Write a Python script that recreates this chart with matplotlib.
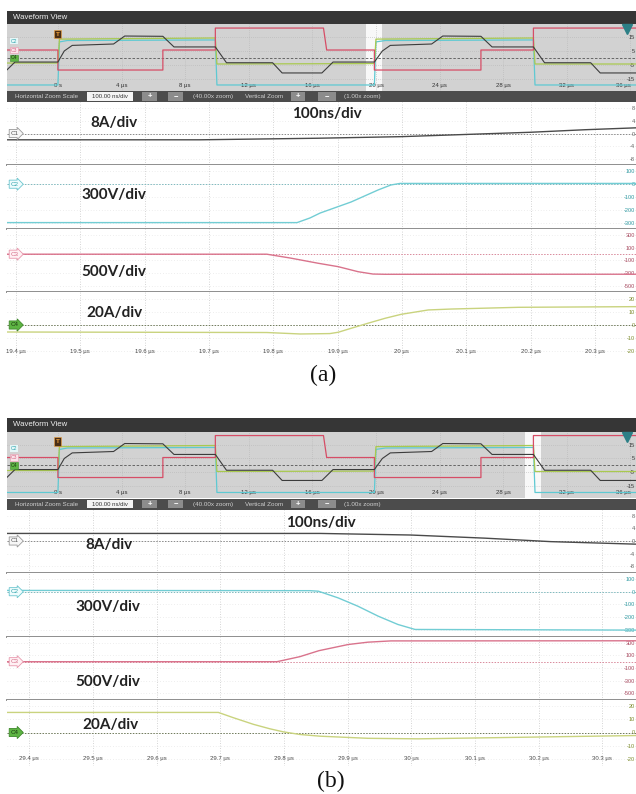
import matplotlib
matplotlib.use("Agg")
import matplotlib.pyplot as plt
import matplotlib.transforms as mtransforms
from matplotlib.patches import Rectangle

plt.rcParams['font.family'] = ['Liberation Sans', 'DejaVu Sans']

W, H = 636, 794

# ---------------- overview data (display units, time in µs) ----------------
ov_ticks = [0, 4, 8, 12, 16, 20, 24, 28, 32, 36]
ov_ticklabels = ['0 s', '4 µs', '8 µs', '12 µs', '16 µs', '20 µs', '24 µs', '28 µs', '32 µs', '36 µs']
ov_yticks = [15, 5, -5, -15]

ov_red_t = [-3.4, 0.0, 0.0, 6.6, 6.6, 9.9, 9.9, 16.7, 16.9, 19.9, 19.9, 26.6, 26.6, 29.9, 29.9, 36.6]
ov_red_v = [5.7, 5.7, -8.6, -8.6, 5.7, 5.7, 21.4, 21.4, 5.7, 5.7, -8.6, -8.6, 5.7, 5.7, 21.4, 21.4]
ov_cyan_t = [-3.4, 0.0, 0.1, 0.6, 9.9, 10.0, 19.9, 20.0, 20.6, 29.9, 30.0, 36.6]
ov_cyan_v = [-19.3, -19.3, 11.5, 12.5, 12.9, -19.3, -19.3, 11.5, 12.5, 12.9, -19.3, -19.3]
ov_green_t = [-3.4, 0.0, 0.1, 9.9, 10.0, 19.9, 20.0, 29.9, 30.0, 36.6]
ov_green_v = [-3.6, -3.6, 13.5, 14.3, -4.3, -4.0, 13.5, 14.3, -4.3, -4.3]
ov_black_t = [-3.4, -2.7, 0.0, 0.4, 0.9, 3.5, 4.2, 6.6, 7.3, 9.9, 10.6, 13.5, 14.1, 16.6, 17.3,
              19.9, 20.4, 20.9, 23.5, 24.2, 26.6, 27.3, 29.9, 30.6, 33.5, 34.1, 36.6]
ov_black_v = [-10.7, -2.9, -2.9, 5.0, 9.0, 10.0, 15.7, 15.5, 7.9, 7.9, -3.4, -3.4, -10.7, -10.7, -2.9,
              -2.9, 5.0, 9.0, 10.0, 15.7, 15.5, 7.9, 7.9, -3.4, -3.4, -10.7, -10.7]

# ---------------- zoomed data, panel (a) ----------------
a_xticks = [19.4, 19.5, 19.6, 19.7, 19.8, 19.9, 20.0, 20.1, 20.2, 20.3]
a_xticklabels = ['19.4 µs', '19.5 µs', '19.6 µs', '19.7 µs', '19.8 µs', '19.9 µs', '20 µs', '20.1 µs', '20.2 µs', '20.3 µs']
a_t_c1 = [19.386, 19.686, 19.870, 19.999, 20.201, 20.285, 20.364]
a_v_c1 = [-2.0, -2.0, -1.5, -1.0, 0.4, 1.2, 1.8]
a_t_c2 = [19.386, 19.837, 19.857, 19.873, 19.921, 19.963, 19.983, 19.997, 20.364]
a_v_c2 = [-300, -300, -264, -225, -139, -45, -6, 6, 6]
a_t_c3 = [19.386, 19.790, 19.826, 19.870, 19.901, 19.932, 19.955, 19.974, 20.364]
a_v_c3 = [0, 0, -60, -144, -198, -278, -315, -319, -318]
a_t_c4 = [19.386, 19.790, 19.842, 19.888, 19.901, 19.921, 19.947, 19.974, 19.999, 20.041, 20.077, 20.181, 20.364]
a_v_c4 = [-5.3, -5.7, -6.8, -6.5, -5.5, -2.5, 1.3, 5.1, 8.1, 11.4, 12.1, 13.4, 13.9]

# ---------------- zoomed data, panel (b) ----------------
b_xticks = [29.4, 29.5, 29.6, 29.7, 29.8, 29.9, 30.0, 30.1, 30.2, 30.3]
b_xticklabels = ['29.4 µs', '29.5 µs', '29.6 µs', '29.7 µs', '29.8 µs', '29.9 µs', '30 µs', '30.1 µs', '30.2 µs', '30.3 µs']
b_t_c1 = [29.365, 29.857, 29.999, 30.116, 30.219, 30.353]
b_v_c1 = [2.4, 2.4, 1.9, 0.9, -0.2, -1.0]
b_t_c2 = [29.365, 29.841, 29.854, 29.885, 29.916, 29.948, 29.979, 30.006, 30.353]
b_v_c2 = [10, 8, 4, -48, -113, -191, -256, -295, -300]
b_t_c3 = [29.365, 29.789, 29.825, 29.855, 29.901, 29.932, 29.968, 30.353]
b_v_c3 = [0, 0, 80, 175, 273, 310, 330, 332]
b_t_c4 = [29.365, 29.697, 29.720, 29.752, 29.778, 29.799, 29.825, 29.857, 29.932, 30.011, 30.353]
b_v_c4 = [15.2, 15.2, 11.3, 6.2, 2.8, 0.5, -1.5, -2.8, -4.4, -4.8, -2.3]

# channel vertical settings
ch_names = ['C1', 'C2', 'C3', 'C4']
ch_yticks = [[8, 4, 0, -4, -8], [100, 0, -100, -200, -300], [300, 100, -100, -300, -500], [20, 10, 0, -10, -20]]
ch_ylims = [(-10, 10), (-350, 150), (-600, 400), (-25, 25)]
ch_scale_text = ['8A/div', '300V/div', '500V/div', '20A/div']

trace_colors = ['#4a4a4a', '#72cdd4', '#d9738c', '#c9d37e']
label_colors = ['#606060', '#2f9aa2', '#a84a60', '#7d8c2c']
zero_colors = ['#8a8a8a', '#7fb9be', '#d98a9c', '#6f7a5a']
tag_fc = ['#f7f7f7', '#effcfd', '#fff1f4', '#5db443']
tag_ec = ['#9a9a9a', '#6cc6cf', '#e898ad', '#3f8a2c']
tag_tc = ['#555555', '#2fa3ab', '#d36a86', '#1d3a12']

fig = plt.figure(figsize=(W / 100, H / 100), dpi=100)
fig.patch.set_facecolor('white')


def rect(x0, y0, x1, y1):
    return [x0 / W, 1 - y1 / H, (x1 - x0) / W, (y1 - y0) / H]


def draw_panel(dy, xlim, xticks, xticklabels, traces, text_pos, caption, cap_xy):
    # title bar
    axt = fig.add_axes(rect(7, 11 + dy, 636, 24 + dy))
    axt.set_axis_off()
    axt.add_patch(Rectangle((0, 0), 1, 1, transform=axt.transAxes, fc='#363636', ec='none'))
    axt.text(0.01, 0.5, 'Waveform View', color='#f0f0f0', fontsize=5.6, va='center', ha='left',
             transform=axt.transAxes)

    # overview
    axo = fig.add_axes(rect(7, 24 + dy, 636, 91 + dy))
    axo.set_facecolor('#d2d2d2')
    axo.set_xlim(-3.2, 36.35)
    axo.set_ylim(-23.6, 24.3)
    for s in axo.spines.values():
        s.set_visible(False)
    axo.axvspan(xlim[0], xlim[1], color='white', alpha=0.85, zorder=1, lw=0)
    axo.grid(True, color='#b4b4b4', ls=(0, (1, 2)), lw=0.5)
    axo.set_xticks(ov_ticks)
    axo.set_xticklabels(ov_ticklabels)
    axo.set_yticks(ov_yticks)
    axo.set_yticklabels([str(v) for v in ov_yticks])
    axo.tick_params(axis='x', length=0, pad=-6.0, labelsize=4.3, labelcolor='#333333')
    axo.tick_params(axis='y', length=0, labelleft=False, labelright=True, pad=-0.8, labelsize=4.0,
                    labelcolor='#333333')
    for lab in axo.get_yticklabels():
        lab.set_ha('right')
    axo.get_xticklabels()[-1].set_ha('right')
    axo.axhline(0, color='#555555', ls=(0, (3, 2)), lw=0.6, zorder=2)
    axo.plot(ov_cyan_t, ov_cyan_v, color='#5ec9d2', lw=0.9, zorder=3)
    axo.plot(ov_green_t, ov_green_v, color='#a9c94f', lw=0.9, zorder=3)
    axo.plot(ov_red_t, ov_red_v, color='#d64d66', lw=0.9, zorder=4)
    axo.plot(ov_black_t, ov_black_v, color='#3c3c3c', lw=0.8, zorder=5)
    bt = mtransforms.blended_transform_factory(axo.transAxes, axo.transData)
    axo.text(0.006, 12.1, 'C2', fontsize=3.6, color='#2fa3ab', va='center', transform=bt,
             bbox=dict(boxstyle='square,pad=0.15', fc='#e6f7f8', ec='none'), zorder=6)
    axo.text(0.006, 5.7, 'C3', fontsize=3.6, color='#d36a86', va='center', transform=bt,
             bbox=dict(boxstyle='square,pad=0.15', fc='#fbe3ea', ec='#e898ad', lw=0.4), zorder=6)
    axo.text(0.006, 0.0, 'C4', fontsize=3.6, color='#1d3a12', va='center', transform=bt,
             bbox=dict(boxstyle='square,pad=0.15', fc='#5db443', ec='#3f8a2c', lw=0.4), zorder=6)
    axo.text(0, 0.85, 'T', fontsize=4.5, color='#f3a43c', ha='center', va='center', fontweight='bold',
             transform=mtransforms.blended_transform_factory(axo.transData, axo.transAxes),
             bbox=dict(boxstyle='square,pad=0.25', fc='#4a2e16', ec='#f3a43c', lw=0.4), zorder=7)
    axo.plot([0.985], [0.92], marker='v', ms=7, color='#2c7f86', transform=axo.transAxes,
             clip_on=False, zorder=7)

    # control bar
    axc = fig.add_axes(rect(7, 91 + dy, 636, 102 + dy))
    axc.set_xlim(7, 636)
    axc.set_ylim(0, 1)
    axc.set_axis_off()
    axc.add_patch(Rectangle((7, 0), 629, 1, fc='#4c4c4c', ec='none'))
    tc = '#cfcfcf'
    axc.text(15, 0.5, 'Horizontal Zoom Scale', color=tc, fontsize=4.5, va='center')
    axc.add_patch(Rectangle((87, 0.12), 46, 0.76, fc='#f4f4f4', ec='none'))
    axc.text(110, 0.5, '100.00 ns/div', color='#333333', fontsize=4.3, va='center', ha='center')
    for x0, x1, s in [(142, 157, '+'), (168, 183, '−'), (291, 305, '+'), (318, 336, '−')]:
        axc.add_patch(Rectangle((x0, 0.12), x1 - x0, 0.76, fc='#8c8c8c', ec='none'))
        axc.text((x0 + x1) / 2, 0.5, s, color='white', fontsize=5.5, ha='center', va='center',
                 fontweight='bold')
    axc.text(193, 0.5, '(40.00x zoom)', color=tc, fontsize=4.5, va='center')
    axc.text(245, 0.5, 'Vertical Zoom', color=tc, fontsize=4.5, va='center')
    axc.text(344, 0.5, '(1.00x zoom)', color=tc, fontsize=4.5, va='center')

    # channel bands
    bands = [(102, 165), (165, 229), (229, 292), (292, 358)]
    axes = []
    for i, (y0, y1) in enumerate(bands):
        ax = fig.add_axes(rect(7, y0 + dy, 636, y1 + dy))
        ax.set_facecolor('white')
        ax.set_xlim(*xlim)
        ax.set_ylim(*ch_ylims[i])
        ax.set_xticks(xticks)
        ax.set_yticks(ch_yticks[i])
        ax.set_yticklabels([str(v) for v in ch_yticks[i]])
        ax.tick_params(axis='y', length=0, labelleft=False, labelright=True, pad=-0.8,
                       labelsize=4.1, labelcolor=label_colors[i])
        for lab in ax.get_yticklabels():
            lab.set_ha('right')
        if i == 3:
            ax.set_xticklabels(xticklabels)
            ax.tick_params(axis='x', length=0, pad=-6.6, labelsize=4.3, labelcolor='#444444')
        else:
            ax.tick_params(axis='x', length=0, labelbottom=False)
        ax.grid(True, axis='x', color='#c6c6c6', ls=(0, (1, 2)), lw=0.6)
        ax.grid(True, axis='y', color='#dedede', ls=(0, (1, 3)), lw=0.5)
        for name in ['top', 'left', 'right']:
            ax.spines[name].set_visible(False)
        if i < 3:
            ax.spines['bottom'].set_color('#8e8e8e')
            ax.spines['bottom'].set_linewidth(1.4)
        else:
            ax.spines['bottom'].set_visible(False)
        ax.axhline(0, color=zero_colors[i], ls=(0, (1.5, 1.5)), lw=0.7, zorder=2)
        t, v = traces[i]
        ax.plot(t, v, color=trace_colors[i], lw=1.0, zorder=3)
        bt = mtransforms.blended_transform_factory(ax.transAxes, ax.transData)
        ax.text(0.006, 0, ch_names[i], fontsize=4.5, color=tag_tc[i], va='center', ha='left',
                transform=bt, zorder=6,
                bbox=dict(boxstyle='rarrow,pad=0.25', fc=tag_fc[i], ec=tag_ec[i], lw=0.6))
        axes.append(ax)

    for (s, (x, y)) in zip(['8A/div', '100ns/div', '300V/div', '500V/div', '20A/div'], text_pos):
        fig.text(x / W, 1 - (y + dy) / H, s, ha='center', va='center', fontsize=11,
                 fontweight='bold', family='Lato', color='#222222')
    fig.text(cap_xy[0] / W, 1 - cap_xy[1] / H, caption, ha='center', va='center', fontsize=17,
             family='Liberation Serif', color='#111111')


draw_panel(0, (19.386, 20.364), a_xticks, a_xticklabels,
           [(a_t_c1, a_v_c1), (a_t_c2, a_v_c2), (a_t_c3, a_v_c3), (a_t_c4, a_v_c4)],
           [(114, 123), (327, 114), (114, 195), (114, 272), (114, 313)], '(a)', (323, 375))
draw_panel(407.5, (29.365, 30.353), b_xticks, b_xticklabels,
           [(b_t_c1, b_v_c1), (b_t_c2, b_v_c2), (b_t_c3, b_v_c3), (b_t_c4, b_v_c4)],
           [(109, 545 - 407.5), (321, 523 - 407.5), (108, 607 - 407.5), (108, 682 - 407.5),
            (110, 725 - 407.5)], '(b)', (331, 781))

fig.savefig('out.png', dpi=100, facecolor='white')
